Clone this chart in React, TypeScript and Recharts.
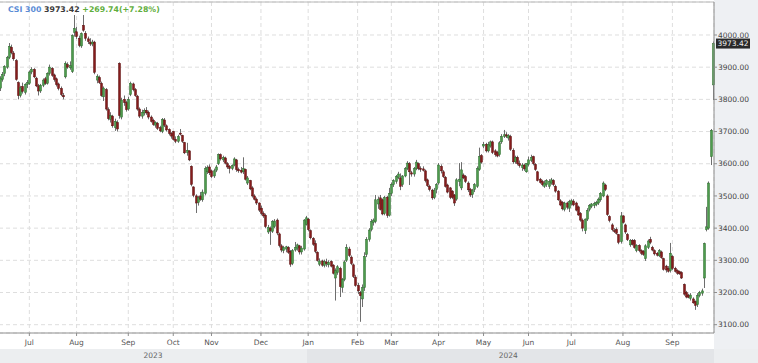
import React from 'react';
import { ComposedChart, Bar, XAxis, YAxis, CartesianGrid, ReferenceLine } from 'recharts';

// Daily candles, CSI 300, 12 Jun 2023 - 30 Sep 2024
const openValues = [
  3835,3862,3880,3900,3930,3962,3944,3920,3852,3812,
  3840,3822,3846,3850,3885,3893,3866,3842,3826,3844,
  3864,3850,3880,3896,3876,3864,3848,3834,3812,3870,
  3908,3898,3886,4008,4010,3990,3966,4030,4005,3988,
  3978,3972,3978,3860,3868,3850,3808,3830,3768,3738,
  3748,3712,3728,3912,3745,3800,3790,3770,3815,3848,
  3830,3810,3770,3748,3758,3766,3760,3745,3735,3720,
  3726,3712,3700,3736,3718,3706,3695,3700,3676,3670,
  3695,3688,3666,3635,3640,3592,3528,3500,3480,3500,
  3488,3508,3575,3590,3578,3562,3580,3600,3628,3612,
  3618,3600,3592,3585,3596,3612,3582,3580,3575,3582,
  3540,3548,3525,3500,3490,3478,3462,3446,3440,3388,
  3400,3390,3405,3425,3382,3345,3330,3335,3340,3328,
  3290,3332,3338,3345,3326,3335,3412,3428,3392,3368,
  3352,3325,3288,3298,3284,3295,3286,3296,3285,3245,
  3262,3275,3215,3240,3300,3335,3310,3286,3248,3222,
  3200,3180,3215,3318,3365,3395,3418,3420,3475,3494,
  3488,3445,3496,3440,3508,3535,3545,3558,3556,3535,
  3562,3585,3600,3572,3568,3585,3600,3586,3584,3578,
  3550,3530,3518,3495,3520,3540,3592,3575,3558,3534,
  3525,3515,3503,3490,3545,3525,3565,3560,3540,3520,
  3505,3520,3530,3582,3625,3655,3660,3640,3655,3668,
  3640,3635,3628,3668,3685,3690,3680,3685,3642,3606,
  3620,3600,3588,3596,3575,3598,3610,3622,3598,3575,
  3552,3545,3530,3535,3530,3540,3548,3530,3515,3485,
  3480,3458,3478,3462,3475,3484,3478,3466,3446,3425,
  3392,3428,3458,3468,3470,3474,3478,3488,3500,3534,
  3500,3436,3410,3392,3396,3380,3358,3438,3410,3380,
  3348,3362,3362,3330,3346,3330,3328,3305,3340,3365,
  3340,3330,3322,3314,3326,3305,3282,3275,3268,3312,
  3275,3268,3265,3262,3225,3200,3192,3182,3180,3172,
  3162,3190,3198,3245,3395,3400,3622,3845,
];
const highValues = [
  3872,3885,3906,3935,3975,3970,3950,3925,3856,3842,
  3852,3850,3860,3890,3900,3897,3870,3848,3848,3865,
  3870,3884,3908,3900,3880,3868,3852,3840,3820,3918,
  3915,3918,4002,4062,4025,3998,4008,4062,4012,3995,
  3990,3985,3982,3878,3874,3855,3840,3835,3775,3760,
  3752,3740,3735,3915,3805,3812,3796,3808,3855,3852,
  3835,3814,3775,3768,3772,3776,3765,3750,3740,3732,
  3730,3718,3742,3742,3722,3710,3698,3702,3685,3690,
  3708,3690,3668,3665,3642,3595,3530,3505,3500,3512,
  3520,3592,3595,3598,3582,3585,3596,3632,3632,3625,
  3622,3605,3596,3598,3620,3615,3588,3590,3620,3585,
  3562,3550,3530,3505,3495,3480,3470,3452,3445,3410,
  3405,3425,3428,3430,3386,3350,3345,3345,3344,3332,
  3335,3357,3352,3348,3345,3428,3438,3432,3396,3372,
  3362,3328,3306,3302,3302,3305,3300,3300,3288,3275,
  3285,3280,3245,3300,3350,3342,3315,3290,3255,3230,
  3205,3225,3325,3372,3400,3428,3430,3503,3498,3503,
  3492,3500,3500,3525,3542,3552,3565,3575,3570,3565,
  3590,3608,3605,3578,3590,3612,3604,3592,3592,3582,
  3554,3535,3522,3525,3540,3602,3598,3580,3562,3538,
  3528,3518,3506,3555,3602,3605,3570,3565,3545,3525,
  3522,3540,3592,3650,3630,3668,3665,3668,3672,3672,
  3645,3640,3670,3692,3705,3698,3692,3690,3648,3625,
  3625,3610,3602,3600,3602,3622,3628,3625,3602,3578,
  3556,3550,3548,3552,3552,3556,3552,3535,3518,3490,
  3484,3482,3482,3488,3490,3490,3482,3470,3450,3430,
  3430,3462,3475,3478,3482,3485,3495,3512,3545,3538,
  3505,3440,3415,3400,3402,3382,3450,3440,3414,3385,
  3366,3366,3366,3350,3350,3334,3332,3350,3365,3373,
  3345,3334,3326,3335,3330,3308,3286,3282,3354,3316,
  3280,3272,3268,3266,3228,3205,3196,3198,3185,3175,
  3198,3205,3212,3355,3466,3545,3708,3980,
];
const lowValues = [
  3826,3855,3872,3895,3925,3940,3920,3858,3800,3806,
  3818,3815,3835,3845,3878,3866,3838,3812,3820,3838,
  3845,3846,3874,3870,3855,3840,3828,3810,3800,3865,
  3895,3892,3882,3995,3988,3962,3960,4010,3982,3972,
  3966,3965,3878,3850,3848,3808,3795,3765,3735,3728,
  3712,3702,3700,3740,3738,3780,3762,3765,3810,3825,
  3808,3765,3742,3740,3750,3752,3738,3728,3718,3712,
  3705,3698,3695,3714,3700,3688,3678,3672,3664,3665,
  3688,3665,3630,3625,3608,3530,3496,3447,3470,3485,
  3482,3502,3568,3565,3556,3556,3574,3596,3610,3605,
  3598,3584,3570,3580,3592,3575,3572,3570,3568,3548,
  3534,3518,3495,3486,3472,3450,3440,3432,3400,3382,
  3348,3385,3400,3378,3340,3325,3322,3325,3320,3280,
  3285,3327,3330,3318,3318,3330,3408,3390,3365,3345,
  3322,3296,3282,3280,3278,3280,3278,3278,3256,3175,
  3255,3186,3200,3235,3295,3310,3285,3245,3218,3195,
  3109,3155,3205,3310,3358,3390,3408,3415,3460,3455,
  3440,3440,3432,3436,3500,3528,3538,3552,3518,3528,
  3558,3580,3534,3560,3560,3580,3580,3575,3576,3542,
  3528,3514,3488,3490,3508,3535,3570,3556,3526,3508,
  3490,3490,3469,3485,3530,3518,3552,3540,3512,3497,
  3494,3512,3525,3578,3600,3648,3635,3635,3650,3630,
  3622,3620,3622,3662,3680,3680,3672,3640,3600,3600,
  3595,3588,3578,3578,3572,3592,3605,3595,3578,3545,
  3538,3530,3525,3528,3522,3535,3530,3510,3485,3468,
  3455,3452,3458,3450,3470,3468,3452,3438,3420,3390,
  3382,3422,3452,3462,3462,3468,3472,3482,3496,3515,
  3438,3418,3390,3385,3380,3350,3352,3414,3382,3360,
  3342,3346,3336,3325,3325,3316,3314,3298,3335,3350,
  3328,3315,3312,3310,3305,3268,3262,3262,3262,3270,
  3262,3255,3255,3242,3190,3182,3182,3175,3165,3146,
  3155,3185,3190,3214,3390,3395,3596,3798,
];
const closeValues = [
  3866,3878,3902,3930,3965,3945,3926,3862,3812,3836,
  3825,3846,3852,3885,3893,3870,3842,3826,3844,3860,
  3850,3880,3900,3875,3862,3846,3834,3815,3808,3912,
  3900,3905,3998,4020,3995,3968,4004,4015,3990,3980,
  3972,3978,3884,3872,3852,3812,3835,3770,3740,3750,
  3718,3732,3708,3750,3798,3790,3768,3800,3850,3830,
  3812,3770,3748,3760,3766,3758,3745,3732,3722,3728,
  3710,3702,3738,3720,3705,3694,3686,3676,3670,3684,
  3694,3670,3634,3642,3612,3536,3502,3478,3495,3490,
  3512,3585,3588,3572,3560,3578,3590,3628,3615,3620,
  3602,3590,3585,3594,3615,3582,3578,3574,3585,3552,
  3556,3522,3500,3490,3478,3456,3446,3438,3405,3402,
  3392,3420,3422,3385,3346,3332,3340,3342,3325,3288,
  3330,3340,3348,3326,3338,3425,3432,3395,3370,3350,
  3328,3300,3298,3285,3296,3290,3294,3282,3260,3268,
  3280,3218,3240,3295,3340,3315,3290,3250,3222,3205,
  3190,3215,3312,3365,3394,3420,3425,3488,3490,3458,
  3444,3495,3440,3508,3536,3548,3560,3568,3530,3562,
  3585,3602,3575,3568,3585,3605,3585,3582,3580,3548,
  3532,3520,3494,3518,3535,3596,3578,3560,3530,3512,
  3496,3495,3478,3550,3552,3581,3556,3545,3519,3503,
  3518,3535,3585,3622,3605,3660,3640,3660,3668,3635,
  3628,3624,3665,3685,3690,3686,3688,3645,3606,3620,
  3600,3594,3596,3584,3600,3612,3620,3600,3582,3548,
  3542,3535,3540,3548,3545,3550,3535,3515,3488,3472,
  3460,3478,3465,3482,3485,3472,3456,3441,3425,3400,
  3428,3455,3470,3475,3476,3480,3490,3508,3540,3520,
  3442,3424,3395,3390,3384,3356,3438,3418,3388,3364,
  3362,3350,3340,3346,3330,3322,3318,3345,3360,3356,
  3332,3320,3316,3330,3308,3272,3270,3266,3322,3275,
  3266,3260,3258,3245,3195,3186,3185,3192,3168,3160,
  3190,3200,3205,3352,3404,3540,3704,3973.42,
];

// first trading day of each month (category index) and its label
const monthTickIndex = [13, 34, 57, 77, 94, 116, 137, 159, 174, 195, 215, 235, 254, 277, 299];
const monthTickLabels = ['Jul', 'Aug', 'Sep', 'Oct', 'Nov', 'Dec', 'Jan', 'Feb', 'Mar', 'Apr', 'May', 'Jun', 'Jul', 'Aug', 'Sep'];
const yearTickIndex = [68, 226];
const yearTickLabels = ['2023', '2024'];
const yearStartIndex = 137;
const priceTicks = [3100, 3200, 3300, 3400, 3500, 3600, 3700, 3800, 3900, 4000];
const priceDomain = [3074.2, 4102.5];

const seriesName = 'CSI 300';
const lastPrice = 3973.42;
const priceChange = 269.74;
const priceChangePct = 7.28;

const data = closeValues.map((c, i) => ({
  i,
  o: openValues[i],
  h: highValues[i],
  l: lowValues[i],
  c,
}));

const FONT = '"DejaVu Sans", Verdana, sans-serif';
const CHART_W = 759;
const AXIS_W = 44;
const PLOT_W = CHART_W - AXIS_W;
const CHART_LEFT = -1;

const Candle = (props: any) => {
  const { x, y, width, height, payload } = props;
  if (!payload || x == null || y == null) return null;
  const { o, h, l, c } = payload;
  const top = Math.min(y, y + height);
  const bot = Math.max(y, y + height);
  const span = h - l || 1;
  const py = (p: number) => top + ((h - p) / span) * (bot - top);
  const cx = Math.round(x + width / 2) + 0.5;
  const up = c >= o;
  const yo = py(o);
  const yc = py(c);
  const bt = Math.min(yo, yc);
  const bh = Math.max(Math.abs(yo - yc), 1);
  return (
    <g>
      <line x1={cx} x2={cx} y1={top} y2={bot} stroke="#6e6e6e" strokeWidth={1} />
      <rect
        x={cx - 1}
        y={bt}
        width={2}
        height={bh}
        fill={up ? '#4d9c4d' : '#861c1c'}
        stroke={up ? '#2c6a2c' : '#5a1010'}
        strokeWidth={0.5}
      />
    </g>
  );
};

const PriceTag = (props: any) => {
  const vb = props.viewBox;
  if (!vb) return null;
  const x = vb.x + vb.width + 2;
  const y = vb.y;
  return (
    <g>
      <rect x={x} y={y - 5} width={34} height={10} fill="#2a2a2a" />
      <text x={x + 1.5} y={y} dy="0.36em" fill="#f2f2f2" fontSize={7.5} fontFamily={FONT}>
        {lastPrice.toFixed(2)}
      </text>
    </g>
  );
};

export default function App() {
  const band = PLOT_W / data.length;
  const yearSplit = CHART_LEFT + yearStartIndex * band;
  return (
    <div
      style={{
        position: 'absolute',
        left: 0,
        top: 0,
        width: 758,
        height: 363,
        background: '#ffffff',
        overflow: 'hidden',
        fontFamily: FONT,
      }}
    >
      <div style={{ position: 'absolute', left: CHART_LEFT + PLOT_W, top: 0, width: 60, height: 349, background: '#eef0f3' }} />
      <div style={{ position: 'absolute', left: 0, top: 349, width: yearSplit, height: 14, background: '#eceef0' }} />
      <div style={{ position: 'absolute', left: yearSplit, top: 349, width: CHART_LEFT + PLOT_W - yearSplit, height: 14, background: '#e3e5e8' }} />
      <div style={{ position: 'absolute', left: CHART_LEFT + PLOT_W, top: 349, width: 60, height: 14, background: '#eceef0' }} />
      <div style={{ position: 'absolute', left: CHART_LEFT, top: 0 }}>
        <ComposedChart
          width={CHART_W}
          height={363}
          data={data}
          margin={{ top: 2, right: 0, bottom: 0, left: 0 }}
          barCategoryGap={0}
        >
          <CartesianGrid stroke="#dedede" strokeDasharray="4 3" />
          <XAxis
            dataKey="i"
            type="category"
            ticks={monthTickIndex}
            interval={0}
            tickFormatter={(v: any) => monthTickLabels[monthTickIndex.indexOf(Number(v))] ?? ''}
            tickSize={3}
            tickMargin={4}
            height={16}
            stroke="#8e8e8e"
            tick={{ fill: '#555', fontSize: 7.5, fontFamily: FONT }}
          />
          <XAxis
            xAxisId="year"
            dataKey="i"
            type="category"
            ticks={yearTickIndex}
            interval={0}
            tickFormatter={(v: any) => yearTickLabels[yearTickIndex.indexOf(Number(v))] ?? ''}
            axisLine={false}
            tickLine={false}
            tickSize={0}
            tickMargin={4}
            height={14}
            tick={{ fill: '#666', fontSize: 7.5, fontFamily: FONT }}
          />
          <YAxis
            orientation="right"
            type="number"
            domain={priceDomain}
            allowDataOverflow
            ticks={priceTicks}
            interval={0}
            tickFormatter={(v: any) => Number(v).toFixed(2)}
            width={AXIS_W}
            tickSize={3}
            tickMargin={1}
            stroke="#8e8e8e"
            tick={{ fill: '#444', fontSize: 7.5, fontFamily: FONT, textAnchor: 'start' }}
          />
          <ReferenceLine y={priceDomain[1]} stroke="#b8b8b8" />
          <Bar
            dataKey={(d: any) => [d.l, d.h]}
            shape={<Candle />}
            isAnimationActive={false}
          />
          <ReferenceLine y={lastPrice} stroke="none" ifOverflow="visible" label={(p: any) => <PriceTag {...p} />} />
        </ComposedChart>
      </div>
      <div
        style={{
          position: 'absolute',
          left: 8,
          top: 6,
          fontSize: 7.8,
          lineHeight: '8px',
          fontWeight: 'bold',
          whiteSpace: 'nowrap',
          fontFamily: FONT,
        }}
      >
        <span style={{ color: '#5a8cd6' }}>{seriesName}</span>{' '}
        <span style={{ color: '#3a3a3a' }}>{lastPrice.toFixed(2)}</span>{' '}
        <span style={{ color: '#5fae3c' }}>
          +{priceChange.toFixed(2)}(+{priceChangePct.toFixed(2)}%)
        </span>
      </div>
    </div>
  );
}
